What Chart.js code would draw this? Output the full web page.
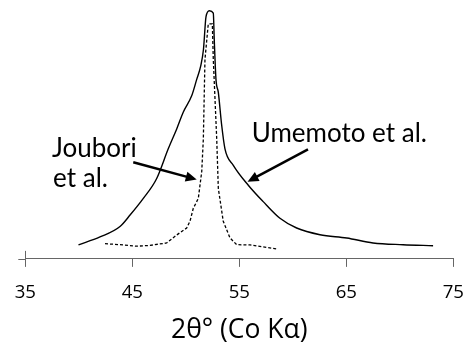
<!DOCTYPE html>
<html>
<head>
<meta charset="utf-8">
<script src="https://cdn.jsdelivr.net/npm/chart.js@4"></script>
<style>
  html, body { margin: 0; padding: 0; background: #fff; }
  #wrap { width: 469px; height: 347px; }
</style>
</head>
<body>
<div id="wrap"><canvas id="xrdChart"></canvas></div>
<script>
// 2-theta positions (degrees) and relative intensity for each profile
const umemotoAngle = [39.97, 41.98, 43.85, 44.79, 46.03, 47.28, 48.36, 49.15, 49.77, 50.55, 51.02, 51.39, 51.65, 51.89, 52.20, 52.57, 52.66, 52.82, 53.04, 53.34, 53.66, 54.44, 55.84, 57.21, 58.80, 60.36, 62.54, 65.04, 67.50, 70.30, 73.11];
const umemotoIntensity = [5.6, 8.8, 13.0, 17.6, 24.3, 32.3, 44.2, 52.2, 59.0, 65.5, 72.1, 77.4, 84.1, 97.3, 99.7, 98.7, 88.0, 72.1, 66.9, 54.2, 44.2, 37.6, 29.6, 23.1, 16.3, 12.4, 9.7, 8.4, 6.4, 5.7, 5.3];

const jouboriAngle = [42.45, 43.85, 45.41, 46.65, 48.21, 49.15, 50.08, 50.39, 50.70, 51.17, 51.49, 51.64, 51.79, 52.10, 52.48, 52.57, 52.89, 53.04, 53.50, 54.13, 54.76, 56.00, 58.50];
const jouboriIntensity = [6.1, 5.7, 5.1, 5.4, 6.4, 9.6, 12.4, 15.1, 20.3, 24.3, 35.1, 48.2, 80.1, 94.4, 94.4, 80.1, 48.2, 28.3, 15.1, 8.4, 5.7, 5.6, 4.0];

const tickValues = [35, 45, 55, 65, 75];

// callout labels and arrows, in data units (angle, intensity)
const labelText = ['Joubori', 'et al.', 'Umemoto et al.'];
const labelAt = [[37.5, 41.0], [37.6, 29.0], [56.16, 46.9]];
const arrowFrom = [[45.09, 38.8], [61.42, 44.0]];
const arrowTo = [[51.02, 31.9], [55.77, 31.0]];

const toPoints = (xs, ys) => xs.map((x, i) => ({ x: x, y: ys[i] }));

const axisColor = '#666';

// draws the short cross tick at 35, the axis stub, labels and arrows
const calloutPlugin = {
  id: 'callouts',
  afterDraw(chart) {
    const ctx = chart.ctx;
    const xs = chart.scales.x, ys = chart.scales.y;
    const x0 = xs.getPixelForValue(35), yb = ys.getPixelForValue(0);
    ctx.save();
    ctx.strokeStyle = axisColor;
    ctx.lineWidth = 1;
    ctx.beginPath();
    ctx.moveTo(Math.round(x0) + 0.5, yb - 8);
    ctx.lineTo(Math.round(x0) + 0.5, yb);
    ctx.moveTo(x0 - 7, Math.round(yb) + 0.5);
    ctx.lineTo(x0, Math.round(yb) + 0.5);
    ctx.stroke();

    ctx.fillStyle = '#000';
    ctx.font = '26px Lato';
    ctx.textAlign = 'left';
    ctx.textBaseline = 'alphabetic';
    labelText.forEach((t, i) => {
      ctx.fillText(t, xs.getPixelForValue(labelAt[i][0]), ys.getPixelForValue(labelAt[i][1]));
    });

    ctx.strokeStyle = '#000';
    ctx.lineWidth = 2.5;
    arrowFrom.forEach((a, i) => {
      const ax = xs.getPixelForValue(a[0]), ay = ys.getPixelForValue(a[1]);
      const bx = xs.getPixelForValue(arrowTo[i][0]), by = ys.getPixelForValue(arrowTo[i][1]);
      const ang = Math.atan2(by - ay, bx - ax);
      const hl = 11, hw = 5;
      const sx = bx - hl * Math.cos(ang), sy = by - hl * Math.sin(ang);
      ctx.beginPath();
      ctx.moveTo(ax, ay);
      ctx.lineTo(sx + 2 * Math.cos(ang), sy + 2 * Math.sin(ang));
      ctx.stroke();
      ctx.beginPath();
      ctx.moveTo(bx, by);
      ctx.lineTo(sx - hw * Math.sin(ang), sy + hw * Math.cos(ang));
      ctx.lineTo(sx + hw * Math.sin(ang), sy - hw * Math.cos(ang));
      ctx.closePath();
      ctx.fill();
    });
    ctx.restore();
  }
};

new Chart(document.getElementById('xrdChart'), {
  type: 'line',
  data: {
    datasets: [{
      label: 'Umemoto et al.',
      data: toPoints(umemotoAngle, umemotoIntensity),
      borderColor: '#000',
      borderWidth: 1.4,
      pointRadius: 0,
      cubicInterpolationMode: 'monotone',
      fill: false
    }, {
      label: 'Joubori et al.',
      data: toPoints(jouboriAngle, jouboriIntensity),
      borderColor: '#000',
      borderWidth: 1.3,
      borderDash: [3, 2],
      pointRadius: 0,
      tension: 0,
      fill: false
    }]
  },
  options: {
    responsive: true,
    maintainAspectRatio: false,
    animation: false,
    layout: { autoPadding: false, padding: { left: 25.3, right: 15.7, top: 0, bottom: 0 } },
    plugins: {
      legend: { display: false },
      tooltip: { enabled: false }
    },
    scales: {
      x: {
        type: 'linear',
        min: 35,
        max: 75,
        afterBuildTicks: (scale) => { scale.ticks = tickValues.map(v => ({ value: v })); },
        // let the end labels hang past the plot edges
        afterFit: (scale) => { scale.paddingLeft = 0; scale.paddingRight = 0; },
        grid: { drawOnChartArea: false, drawTicks: true, tickLength: 8, color: axisColor },
        border: { display: true, color: axisColor, width: 1 },
        ticks: { color: '#000', padding: 15, font: { family: 'Open Sans', size: 18.6 }, maxRotation: 0 },
        title: {
          display: true,
          text: '2θ° (Co Kα)',
          color: '#000',
          font: { family: 'Open Sans', size: 26.5 },
          padding: { top: -5, bottom: 1 }
        }
      },
      y: { display: false, min: 0, max: 104 }
    }
  },
  plugins: [calloutPlugin]
});
</script>
</body>
</html>
